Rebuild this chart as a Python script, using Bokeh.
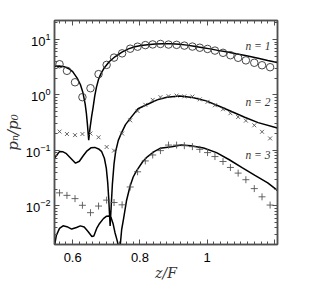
from bokeh.plotting import figure
from bokeh.models import (LinearAxis, LogAxis, SingleIntervalTicker, LogTicker,
                          CustomJSTickFormatter, Label)
from bokeh.embed import file_html
from bokeh.resources import INLINE

# ---- data ----
x_markers = [0.561, 0.583, 0.607, 0.629, 0.653, 0.677, 0.701, 0.723, 0.747, 0.771,
             0.793, 0.816, 0.838, 0.861, 0.885, 0.909, 0.932, 0.956, 0.978, 1.001,
             1.023, 1.047, 1.069, 1.092, 1.115, 1.140, 1.163, 1.187]
n1_markers = [3.58, 2.72, 1.69, 0.91, 1.32, 2.37, 3.48, 4.71, 5.62, 6.82,
              7.41, 7.91, 8.14, 8.3, 8.1, 8.0, 7.75, 7.45, 7.1, 6.75,
              6.3, 5.75, 5.2, 4.67, 4.2, 3.8, 3.43, 3.16]
n2_markers = [0.218, 0.197, 0.188, 0.197, 0.201, 0.172, 0.115, 0.0988, 0.201, 0.348,
              0.512, 0.663, 0.814, 0.91, 0.948, 0.972, 0.94, 0.933, 0.831, 0.75,
              0.65, 0.551, 0.467, 0.40, 0.343, 0.283, 0.216, 0.164]
n3_markers = [0.0171, 0.0154, 0.01345, 0.0102, 0.0075, 0.00988, 0.01264, 0.01145, 0.0104, 0.0218,
              0.041, 0.0644, 0.0824, 0.0988, 0.1244, 0.1244, 0.1213, 0.1165, 0.1042, 0.091,
              0.0772, 0.0629, 0.0491, 0.0388, 0.0295, 0.0204, 0.0145, 0.0103]

n1_line_x = [0.5466, 0.560, 0.5751, 0.5886, 0.600, 0.6134, 0.6229, 0.630, 0.6371, 0.6409,
             0.6437, 0.6477, 0.6514, 0.6563, 0.6609, 0.6657, 0.6706, 0.6771, 0.6849, 0.6943,
             0.7086, 0.7257, 0.7466, 0.7657, 0.7849, 0.8029, 0.8229, 0.8457, 0.8706, 0.8943,
             0.9171, 0.94, 0.9609, 0.9829, 1.0086, 1.0314, 1.0563, 1.0857, 1.1171, 1.1514,
             1.18, 1.2086]
n1_line_y = [3.30, 3.32, 3.23, 2.97, 2.63, 2.01, 1.54, 1.13, 0.69, 0.458,
             0.303, 0.153, 0.247, 0.405, 0.603, 0.96, 1.37, 1.93, 2.47, 3.10,
             3.96, 4.87, 5.93, 6.77, 7.41, 7.81, 8.04, 8.27, 8.41, 8.38,
             8.21, 7.91, 7.56, 7.20, 6.77, 6.36, 5.98, 5.51, 5.07, 4.58,
             4.18, 3.84]

n2_line_x = [0.5457, 0.5609, 0.5714, 0.58, 0.5943, 0.6086, 0.62, 0.6314, 0.6429, 0.6543,
             0.6657, 0.6771, 0.6857, 0.6943, 0.70, 0.7043, 0.7071, 0.7094, 0.7114, 0.7143,
             0.718, 0.7229, 0.7277, 0.7357, 0.7466, 0.7571, 0.7706, 0.7943, 0.8229, 0.8514,
             0.88, 0.918, 0.9563, 0.9971, 1.0323, 1.0706, 1.1114, 1.1514, 1.2086]
n2_line_y = [0.072, 0.0948, 0.094, 0.0884, 0.072, 0.0586, 0.0636, 0.0798, 0.098, 0.111,
             0.113, 0.106, 0.096, 0.072, 0.0477, 0.0258, 0.0139, 0.0075, 0.00434, 0.0092,
             0.024, 0.0562, 0.0948, 0.151, 0.216, 0.291, 0.373, 0.562, 0.677, 0.814,
             0.91, 0.96, 0.895, 0.781, 0.636, 0.508, 0.396, 0.316, 0.252]

n3_line_x = [0.5466, 0.5514, 0.5609, 0.5714, 0.5829, 0.5971, 0.6114, 0.6229, 0.6343, 0.6457,
             0.6571, 0.6629, 0.6714, 0.68, 0.6914, 0.70, 0.7086, 0.7143, 0.72, 0.7257,
             0.7314, 0.7357, 0.7386, 0.7414, 0.7457, 0.7514, 0.76, 0.7706, 0.78, 0.7894,
             0.8086, 0.8229, 0.842, 0.86, 0.8943, 0.9229, 0.9514, 0.9894, 1.0277, 1.0657,
             1.1037, 1.142, 1.18, 1.2086]
n3_line_y = [0.0020, 0.0029, 0.0039, 0.00434, 0.0042, 0.0038, 0.00405, 0.00434, 0.00413, 0.00343,
             0.00279, 0.00285, 0.0039, 0.0048, 0.00586, 0.00644, 0.00655, 0.0061, 0.0048, 0.0033,
             0.00247, 0.00193, 0.00145, 0.00193, 0.00373, 0.00586, 0.0123, 0.0225, 0.033, 0.0422,
             0.0629, 0.0772, 0.0948, 0.1086, 0.1164, 0.1244, 0.1213, 0.11, 0.091, 0.0676,
             0.0487, 0.0353, 0.0258, 0.0189]

curve_labels = ["n = 1", "n = 2", "n = 3"]
x_label = "z/F"
y_label = "p\u2099/p\u2080"

# ---- figure ----
AX = "#505050"
p = figure(width=298, height=283, x_range=(0.546, 1.209), y_range=(0.002, 22),
           y_axis_type="log", output_backend="svg", toolbar_location=None,
           min_border_left=45, min_border_right=21, min_border_top=20, min_border_bottom=38,
           background_fill_color="white", border_fill_color="white")
p.xgrid.visible = False
p.ygrid.visible = False
p.outline_line_color = AX
p.outline_line_width = 1.5

xt = SingleIntervalTicker(interval=0.2, num_minor_ticks=10)
yt = LogTicker(num_minor_ticks=10)

bottom = p.below[0]
left = p.left[0]
bottom.ticker = xt
left.ticker = yt
bottom.formatter = CustomJSTickFormatter(
    code="return tick > 1.1 ? '' : Number(tick.toFixed(2)).toString();")

top = LinearAxis(ticker=xt, formatter=CustomJSTickFormatter(code="return '';"))
right = LogAxis(ticker=yt, formatter=CustomJSTickFormatter(code="return '';"))
p.add_layout(top, "above")
p.add_layout(right, "right")

for ax in [bottom, left, top, right]:
    ax.axis_line_color = AX
    ax.axis_line_width = 1.5
    ax.major_tick_in = 5
    ax.major_tick_out = 0
    ax.minor_tick_in = 3
    ax.minor_tick_out = 0
    ax.major_tick_line_color = AX
    ax.minor_tick_line_color = AX
    ax.major_label_text_font = "Liberation Sans"
    ax.major_label_text_font_size = "13px"
    ax.major_label_text_color = "black"
for ax in [top, right]:
    ax.major_label_standoff = 0
    ax.major_label_text_font_size = "1px"

bottom.major_label_standoff = 8
left.major_label_standoff = 4
bottom.axis_label = x_label
left.axis_label = y_label
for ax in [bottom, left]:
    ax.axis_label_text_font = "DejaVu Serif"
    ax.axis_label_text_font_style = "italic"
    ax.axis_label_text_font_size = "14px"
    ax.axis_label_text_color = "#333333"
    ax.axis_label_standoff = 0
left.axis_label_standoff = 1
left.axis_label_text_font_size = "15px"

# model curves
for lx, ly in [(n1_line_x, n1_line_y), (n2_line_x, n2_line_y), (n3_line_x, n3_line_y)]:
    p.line(lx, ly, line_color="black", line_width=1.5)

# simulation markers
p.scatter(x_markers, n1_markers, marker="circle", size=7.5, fill_color=None,
          line_color="#333333", line_width=0.9)
p.scatter(x_markers, n2_markers, marker="x", size=5.5, line_color="#555555", line_width=0.9)
p.scatter(x_markers, n3_markers, marker="cross", size=7, line_color="#555555", line_width=0.9)

# curve labels
label_x = 1.188
label_y = [7.6, 0.75, 0.083]
for t, yy in zip(curve_labels, label_y):
    p.add_layout(Label(x=label_x, y=yy, text=t, text_align="right", text_baseline="middle",
                       text_font="Liberation Serif", text_font_style="italic",
                       text_font_size="11.5px", text_color="#333333"))

open("out.html", "w").write(file_html(p, INLINE))
